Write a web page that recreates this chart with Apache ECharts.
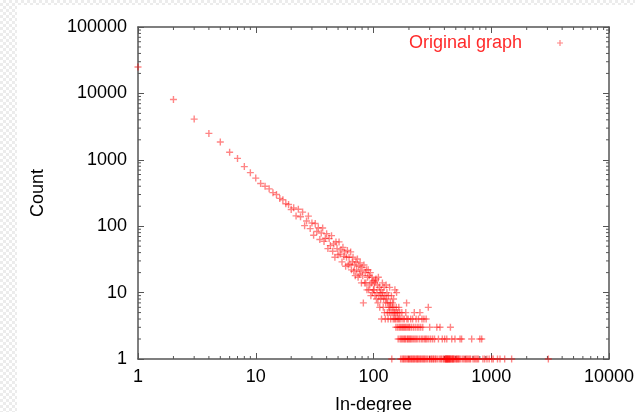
<!DOCTYPE html>
<html><head><meta charset="utf-8">
<script src="https://cdn.jsdelivr.net/npm/echarts@6/dist/echarts.min.js"></script>
<style>
html,body{margin:0;padding:0;width:635px;height:412px;overflow:hidden;
background:repeating-conic-gradient(#ececec 0% 25%, #ffffff 0% 50%) 0 0/6px 6px;}
#c{position:absolute;left:17px;top:5px;width:618px;height:407px;background:#fff;}
</style></head><body><div id="c"></div>
<script>
// In-degree values (x) and their counts (y)
const degrees = [
  1,2,3,4,5,6,7,8,9,10,11,
  12,13,14,15,16,17,18,19,20,21,22,23,24,25,26,27,28,29,30,
  31,32,33,34,35,36,37,38,39,40,41,42,43,44,45,46,47,48,49,50,
  51,52,53,54,55,56,57,58,59,60,61,62,63,64,65,66,67,68,69,70,
  71,72,73,74,75,76,77,78,79,80,81,82,83,84,85,86,87,88,89,90,
  91,92,93,94,95,96,97,98,99,100,
  101,102,103,104,105,106,107,108,109,110,
  111,112,113,114,115,116,117,118,119,120,
  121,122,123,124,125,126,127,128,129,130,
  131,132,133,134,135,136,137,138,139,140,
  141,142,143,144,145,146,147,148,149,150,
  151,152,153,154,155,156,157,158,159,160,
  161,162,163,164,165,166,167,168,169,170,
  171,172,173,174,175,176,177,178,179,180,
  181,182,183,184,185,186,187,188,189,190,
  191,192,193,194,195,196,197,198,199,200,
  201,203,204,205,207,208,209,210,212,213,215,216,218,219,220,222,223,225,226,228,
  230,231,233,235,236,238,240,241,243,245,247,248,250,252,254,256,258,260,262,263,
  265,268,270,272,275,278,280,282,285,288,292,295,298,300,
  302,306,310,314,318,322,326,330,335,340,345,350,356,362,367,372,378,384,390,396,
  402,404,408,411,415,418,419,422,425,428,432,436,440,444,447,450,453,458,462,466,
  470,474,480,486,492,498,505,512,520,528,536,543,551,560,570,585,600,612,625,640,
  655,668,682,700,720,740,760,780,800,830,850,880,920,960,1009,1040,1130,1187,1300,1490,
  3055
];
const counts = [
  25000,8100,4100,2500,1850,1300,1050,790,640,530,440,
  400,365,320,300,262,250,218,212,178,189,143,180,139,163,102,120,142,92,112,
  73,110,83,95,63,79,94,59,66,77,46,65,51,72,42,54,34,58,46,37,
  58,38,44,29,48,35,41,25,34,43,26,34,27,41,22,29,34,21,26,18,
  29,22,32,17,25,19,28,21,14,24,18,7,26,14,20,14,22,11,17,22,
  11,18,13,20,9,14,17,10,15,11,
  11,14,9,15,16,8,10,13,7,17,
  9,12,6,10,8,11,4,9,14,10,
  6,8,12,5,9,4,7,13,8,10,
  5,7,4,9,6,5,12,6,7,4,
  5,9,1,6,7,5,4,8,6,5,
  4,11,5,4,3,6,10,5,4,3,
  5,2,4,6,3,4,5,2,3,1,
  4,2,3,5,1,2,3,4,1,2,
  3,1,4,2,3,1,2,5,3,1,
  7,4,2,3,1,2,4,1,3,2,
  1,3,2,1,4,2,1,3,1,2,4,1,3,2,1,5,1,2,3,1,
  4,2,1,3,1,2,1,4,3,1,2,5,1,3,1,2,4,1,3,2,
  1,4,1,2,1,2,4,1,2,1,6,2,1,3,
  1,2,1,1,2,1,1,2,1,1,3,1,2,1,3,1,1,2,1,1,
  2,1,1,1,1,1,2,1,1,1,1,1,1,1,1,3,1,1,2,1,
  1,1,1,1,2,1,1,1,1,1,1,2,1,2,1,1,1,1,1,1,
  1,1,2,1,1,1,1,1,2,2,1,1,1,1,1,1,1,1,1,1,
  1
];
const seriesName = 'Original graph';
const xLabel = 'In-degree';
const yLabel = 'Count';
const xMin = 1, xMax = 10000, yMin = 1, yMax = 100000;
// minor tick values (2..9 of each decade)
const xMinorTicks = [2,3,4,5,6,7,8,9,20,30,40,50,60,70,80,90,200,300,400,500,600,700,800,900,2000,3000,4000,5000,6000,7000,8000,9000];
const yMinorTicks = [2,3,4,5,6,7,8,9,20,30,40,50,60,70,80,90,200,300,400,500,600,700,800,900,2000,3000,4000,5000,6000,7000,8000,9000,20000,30000,40000,50000,60000,70000,80000,90000];

const points = degrees.map((d, i) => [d, counts[i]]);
const FONT = "'Liberation Sans', Arial, Helvetica, sans-serif";
const AX = '#555';
const PLUS = 'path://M4 0H6V4H10V6H6V10H4V6H0V4H4Z';

function axisBase(extra) {
  return Object.assign({
    type: 'log', logBase: 10,
    axisLine: { show: true, lineStyle: { color: AX, width: 1.5 } },
    axisTick: { show: true, inside: true, length: 6, lineStyle: { color: AX, width: 1 } },
    splitLine: { show: false },
    minorTick: { show: false }
  }, extra);
}

const chart = echarts.init(document.getElementById('c'), null, { renderer: 'canvas' });
chart.setOption({
  animation: false,
  backgroundColor: '#fff',
  grid: { left: 121, right: 26, top: 22, bottom: 53, containLabel: false, outerBoundsMode: 'none' },
  legend: {
    data: [{ name: seriesName, icon: PLUS }],
    right: 67, top: 24, align: 'right',
    itemWidth: 66, itemHeight: 6,
    textStyle: { color: '#ff2a2a', fontSize: 18, fontFamily: FONT },
    selectedMode: false
  },
  xAxis: [
    axisBase({
      min: xMin, max: xMax, position: 'bottom',
      name: xLabel, nameLocation: 'middle', nameGap: 46,
      nameTextStyle: { color: '#000', fontSize: 18, fontFamily: FONT, verticalAlign: 'middle' },
      axisLabel: { color: '#000', fontSize: 18, fontFamily: FONT, margin: 9, formatter: v => String(Math.round(v)) }
    }),
    axisBase({ min: xMin, max: xMax, position: 'top', axisLabel: { show: false } })
  ],
  yAxis: [
    axisBase({
      min: yMin, max: yMax, position: 'left',
      name: yLabel, nameLocation: 'middle', nameGap: 100,
      nameTextStyle: { color: '#000', fontSize: 18, fontFamily: FONT, verticalAlign: 'middle' },
      axisLabel: { color: '#000', fontSize: 18, fontFamily: FONT, margin: 11, formatter: v => String(Math.round(v)) }
    }),
    axisBase({ min: yMin, max: yMax, position: 'right', axisLabel: { show: false } })
  ],
  series: [
    {
      name: seriesName, type: 'scatter', data: points,
      symbol: PLUS, symbolSize: 7,
      itemStyle: { color: 'rgba(255,0,0,0.6)' },
      xAxisIndex: 0, yAxisIndex: 0, z: 5
    },
    {
      type: 'custom', silent: true, xAxisIndex: 0, yAxisIndex: 0, z: 3,
      data: xMinorTicks.map(v => [v, 1]),
      renderItem: (params, api) => {
        const x = api.coord([api.value(0), 1])[0];
        const cs = params.coordSys;
        return { type: 'group', children: [
          { type: 'line', shape: { x1: x, y1: cs.y + cs.height, x2: x, y2: cs.y + cs.height - 3 }, style: { stroke: AX, lineWidth: 1 } },
          { type: 'line', shape: { x1: x, y1: cs.y, x2: x, y2: cs.y + 3 }, style: { stroke: AX, lineWidth: 1 } }
        ]};
      }
    },
    {
      type: 'custom', silent: true, xAxisIndex: 0, yAxisIndex: 0, z: 3,
      data: yMinorTicks.map(v => [1, v]),
      renderItem: (params, api) => {
        const y = api.coord([1, api.value(1)])[1];
        const cs = params.coordSys;
        return { type: 'group', children: [
          { type: 'line', shape: { x1: cs.x, y1: y, x2: cs.x + 3, y2: y }, style: { stroke: AX, lineWidth: 1 } },
          { type: 'line', shape: { x1: cs.x + cs.width, y1: y, x2: cs.x + cs.width - 3, y2: y }, style: { stroke: AX, lineWidth: 1 } }
        ]};
      }
    }
  ]
});
</script></body></html>
